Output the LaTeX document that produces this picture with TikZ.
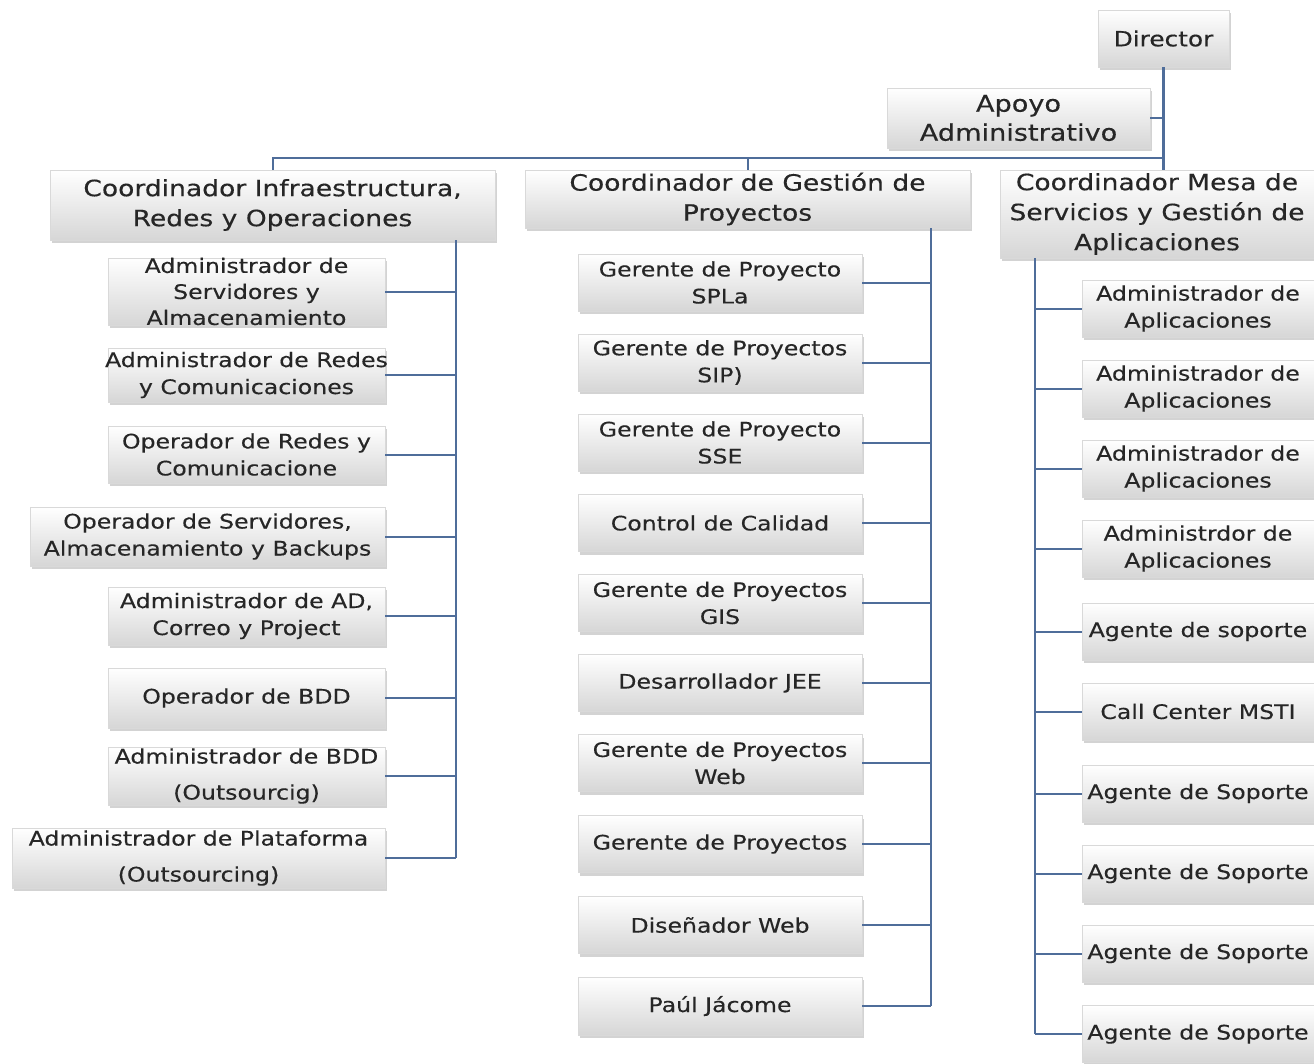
\documentclass[tikz,border=0pt]{standalone}
\usepackage{fontspec}
\setmainfont{DejaVu Sans}[FakeStretch=1.18, FakeBold=0.3]
\usetikzlibrary{shadings,shadows}

\definecolor{linkblue}{HTML}{4F6D9A}
\definecolor{boxtext}{HTML}{262626}

\tikzset{
  role/.style={draw=gray!30, top color=white, bottom color=gray!32,
    drop shadow={shadow xshift=2pt, shadow yshift=-3pt, opacity=0.35},
    text=boxtext, align=center, inner sep=0pt, minimum height=57pt,
    font=\fontsize{20}{27}\selectfont},
  chief/.style={role, font=\fontsize{22.5}{30}\selectfont},
  trunk/.style={draw=linkblue, line width=2.6pt},
  link/.style={draw=linkblue, line width=2pt},
}

\begin{document}
\begin{tikzpicture}[x=1pt, y=-1pt]
    \useasboundingbox (0,0) rectangle (1314,1063);

    % top of the chart
    \node [role, minimum width=131pt, font=\fontsize{21}{27}\selectfont] (dir) at (1163.5,38.5) {Director};
    \node [chief, minimum width=263pt, minimum height=60pt, font=\fontsize{23}{29}\selectfont] (apoyo) at (1018.5,118) {Apoyo\\Administrativo};

    \node [chief, minimum width=445pt, minimum height=70pt] (inf) at (272.5,205) {Coordinador Infraestructura,\\Redes y Operaciones};
    \node [chief, minimum width=445pt, minimum height=58pt] (ges) at (747.5,199) {Coordinador de Gestión de\\Proyectos};
    \node [chief, minimum width=314pt, minimum height=88pt] (mesa) at (1157,214) {Coordinador Mesa de\\Servicios y Gestión de\\Aplicaciones};

    \coordinate (bus) at (1163.5,158);
    \coordinate (infbus) at (456,0);
    \coordinate (gesbus) at (931,0);
    \coordinate (mesabus) at (1035,0);

    % infraestructura
    \node [role, minimum width=277pt, minimum height=67pt, font=\fontsize{20}{26}\selectfont] (ia1) at (246.5,291.5) {Administrador de\\Servidores y\\Almacenamiento};
    \node [role, minimum width=277pt, minimum height=54pt] (ia2) at (246.5,375) {\makebox[277pt]{Administrador de Redes}\\y Comunicaciones};
    \node [role, minimum width=277pt] (ia3) at (246.5,454.5) {Operador de Redes y\\Comunicacione};
    \node [role, minimum width=355pt, minimum height=59pt] (ia4) at (207.5,536.5) {Operador de Servidores,\\Almacenamiento y Backups};
    \node [role, minimum width=277pt, minimum height=58pt] (ia5) at (246.5,616) {Administrador de AD,\\Correo y Project};
    \node [role, minimum width=277pt, minimum height=60pt] (ia6) at (246.5,698) {Operador de BDD};
    \node [role, minimum width=277pt, minimum height=58pt, font=\fontsize{20}{36}\selectfont] (ia7) at (246.5,776) {Administrador de BDD\\(Outsourcig)};
    \node [role, minimum width=373pt, minimum height=60pt, font=\fontsize{20}{36}\selectfont] (ia8) at (198.5,858) {Administrador de Plataforma\\(Outsourcing)};

    % gestion de proyectos
    \node [role, minimum width=284pt] (gp1) at (720,282.5) {Gerente de Proyecto\\SPLa};
    \node [role, minimum width=284pt] (gp2) at (720,362.5) {Gerente de Proyectos\\SIP)};
    \node [role, minimum width=284pt] (gp3) at (720,442.5) {Gerente de Proyecto\\SSE};
    \node [role, minimum width=284pt] (gp4) at (720,523) {Control de Calidad};
    \node [role, minimum width=284pt] (gp5) at (720,603) {Gerente de Proyectos\\GIS};
    \node [role, minimum width=284pt] (gp6) at (720,683) {Desarrollador JEE};
    \node [role, minimum width=284pt] (gp7) at (720,763) {Gerente de Proyectos\\Web};
    \node [role, minimum width=284pt] (gp8) at (720,844) {Gerente de Proyectos};
    \node [role, minimum width=284pt] (gp9) at (720,925) {Diseñador Web};
    \node [role, minimum width=284pt, minimum height=58pt] (gp10) at (720,1006) {Paúl Jácome};

    % mesa de servicios
    \node [role, minimum width=232pt] (ms1) at (1198,308.5) {Administrador de\\Aplicaciones};
    \node [role, minimum width=232pt] (ms2) at (1198,388.5) {Administrador de\\Aplicaciones};
    \node [role, minimum width=232pt] (ms3) at (1198,468.5) {Administrador de\\Aplicaciones};
    \node [role, minimum width=232pt] (ms4) at (1198,548.5) {Administrdor de\\Aplicaciones};
    \node [role, minimum width=232pt] (ms5) at (1198,631.5) {Agente de soporte};
    \node [role, minimum width=232pt] (ms6) at (1198,711.5) {Call Center MSTI};
    \node [role, minimum width=232pt] (ms7) at (1198,793.5) {Agente de Soporte};
    \node [role, minimum width=232pt] (ms8) at (1198,873.5) {Agente de Soporte};
    \node [role, minimum width=232pt] (ms9) at (1198,953.5) {Agente de Soporte};
    \node [role, minimum width=232pt] (ms10) at (1198,1034) {Agente de Soporte};

    % connectors
    \draw [trunk] (dir.south) -- (dir.south |- mesa.north);
    \draw [link] (apoyo.east) -- (apoyo.east -| dir.south);
    \draw [link] (inf.north) |- (bus);
    \draw [link] (ges.north) -- (ges.north |- bus);

    \draw [trunk] (inf.south -| infbus) -- (ia8.east -| infbus);
    \foreach \n in {1,...,8}
        \draw [link] (ia\n.east) -- (ia\n.east -| infbus);

    \draw [trunk] (ges.south -| gesbus) -- (gp10.east -| gesbus);
    \foreach \n in {1,...,10}
        \draw [link] (gp\n.east) -- (gp\n.east -| gesbus);

    \draw [trunk] (mesa.south -| mesabus) -- (ms10.west -| mesabus);
    \foreach \n in {1,...,10}
        \draw [link] (ms\n.west) -- (ms\n.west -| mesabus);
\end{tikzpicture}
\end{document}
